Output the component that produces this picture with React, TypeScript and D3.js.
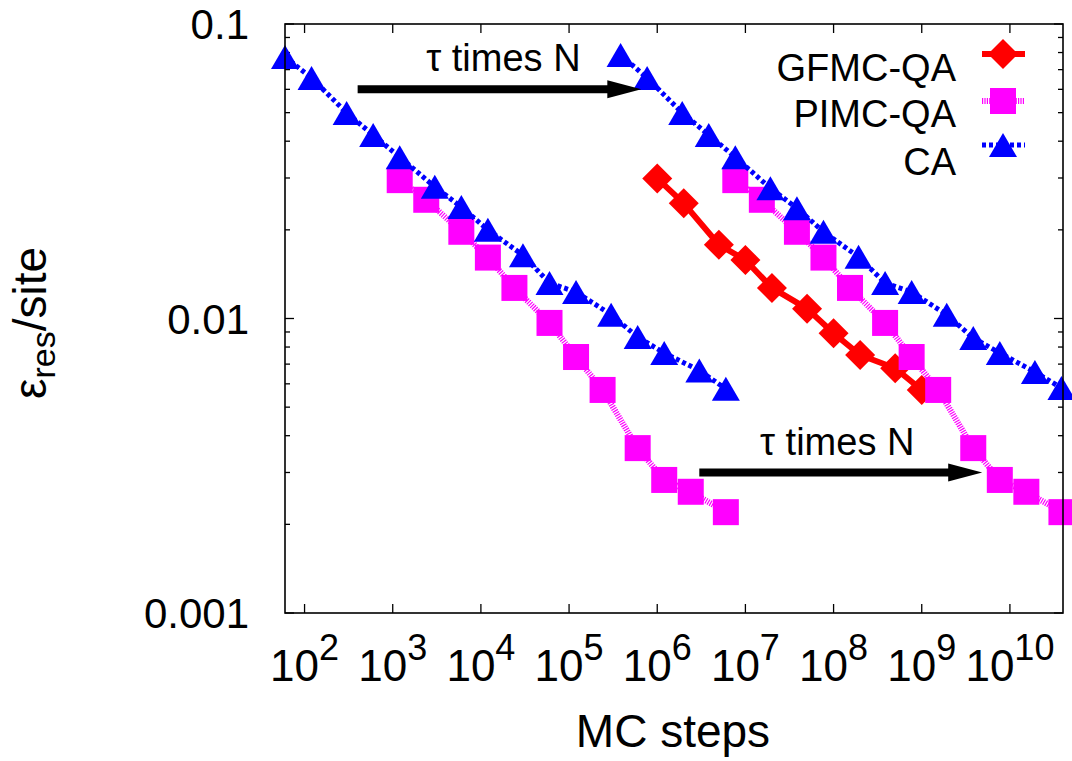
import React from "react";
import * as d3 from "d3";

// ---------- data ----------
const caStepsA = [60, 120, 300, 600, 1200, 3000, 6000, 12000, 30000, 60000, 120000, 300000, 600000, 1.2e6, 3e6, 6e6];
const caErrA = [0.0773, 0.0656, 0.0499, 0.042, 0.0353, 0.028, 0.0239, 0.02, 0.0164, 0.0132, 0.0123, 0.0103, 0.00865, 0.00764, 0.00666, 0.00577];

const caStepsB = [3.84e5, 7.68e5, 1.92e6, 3.84e6, 7.68e6, 1.92e7, 3.84e7, 7.68e7, 1.92e8, 3.84e8, 7.68e8, 1.92e9, 3.84e9, 7.68e9, 1.92e10, 3.84e10];
const caErrB = [0.0785, 0.0656, 0.0499, 0.042, 0.0353, 0.0277, 0.0237, 0.0197, 0.0162, 0.0132, 0.0123, 0.0103, 0.00858, 0.00764, 0.00658, 0.00581];

const pimcStepsA = [1200, 2400, 6000, 12000, 24000, 60000, 120000, 240000, 600000, 1.2e6, 2.4e6, 6e6];
const pimcErrA = [0.0295, 0.0253, 0.0197, 0.0161, 0.0127, 0.00966, 0.0074, 0.00572, 0.00363, 0.00283, 0.00258, 0.0022];

const pimcStepsB = [7.68e6, 1.536e7, 3.84e7, 7.68e7, 1.536e8, 3.84e8, 7.68e8, 1.536e9, 3.84e9, 7.68e9, 1.536e10, 3.84e10];
const pimcErrB = [0.0295, 0.0253, 0.0197, 0.0161, 0.0127, 0.00966, 0.0074, 0.00572, 0.00363, 0.00283, 0.00258, 0.0022];

const gfmcSteps = [1e6, 2e6, 5e6, 1e7, 2e7, 5e7, 1e8, 2e8, 5e8, 1e9];
const gfmcErr = [0.0299, 0.0246, 0.0178, 0.0158, 0.0127, 0.0108, 0.00891, 0.00752, 0.00678, 0.00572];

const xTickExps = [2, 3, 4, 5, 6, 7, 8, 9, 10];
const yTickValues = [0.001, 0.01, 0.1];
const yTickLabels = ["0.001", "0.01", "0.1"];

const legendLabels = ["GFMC-QA", "PIMC-QA", "CA"];

// annotations (data coordinates)
const arrowFrom = [[400, 0.06], [3e6, 0.003]];
const arrowTo = [[6.6e5, 0.06], [4.85e9, 0.003]];
const annotText = ["τ times N", "τ times N"];
const annotPos = [[1.8e4, 0.0694], [1.1e8, 0.00344]];

// ---------- layout ----------
const W = 1072;
const H = 761;
const L = 285, R = 1063, T = 24, B = 613;
const FONT = "'Liberation Sans', Arial, Helvetica, sans-serif";

const x = d3.scaleLog().domain([60, 4e10]).range([L, R]);
const y = d3.scaleLog().domain([0.001, 0.1]).range([B, T]);

type Style = { color: string; width: number; dash?: string; marker: "diamond" | "square" | "triangle" };
const styles: Record<string, Style> = {
  gfmc: { color: "#ff0000", width: 6, marker: "diamond" },
  pimc: { color: "#ff00ff", width: 6, dash: "1.2,1.2", marker: "square" },
  ca: { color: "#0000ff", width: 5, dash: "4,3", marker: "triangle" },
};

function Marker({ cx, cy, s }: { cx: number; cy: number; s: Style }) {
  if (s.marker === "diamond") {
    const r = 15;
    return <path d={`M${cx},${cy - r}L${cx + r},${cy}L${cx},${cy + r}L${cx - r},${cy}Z`} fill={s.color} />;
  }
  if (s.marker === "square") {
    const h = 13;
    return <rect x={cx - h} y={cy - h} width={2 * h} height={2 * h} fill={s.color} />;
  }
  const hw = 14, hh = 12;
  return <path d={`M${cx},${cy - hh}L${cx + hw},${cy + hh}L${cx - hw},${cy + hh}Z`} fill={s.color} />;
}

function Series({ xs, ys, s }: { xs: number[]; ys: number[]; s: Style }) {
  const pts: [number, number][] = xs.map((v, i) => [x(v), y(ys[i])]);
  const line = d3.line()(pts) || "";
  return (
    <g>
      <path d={line} fill="none" stroke={s.color} strokeWidth={s.width} strokeDasharray={s.dash} strokeLinejoin="round" />
      {pts.map((p, i) => (
        <Marker key={i} cx={p[0]} cy={p[1]} s={s} />
      ))}
    </g>
  );
}

function yMinorTicks(): number[] {
  const out: number[] = [];
  for (const dec of [0.001, 0.01]) {
    for (let k = 2; k <= 9; k++) out.push(dec * k);
  }
  return out;
}

export default function App() {
  const minors = yMinorTicks();
  const legendStyles = [styles.gfmc, styles.pimc, styles.ca];
  const legendMarkerY = [54, 101, 145];
  const legendTextY = [81, 127, 175];
  return (
    <svg
      width={W}
      height={H}
      viewBox={`0 0 ${W} ${H}`}
      style={{ position: "absolute", left: 0, top: 0, background: "#fff" }}
      fontFamily={FONT}
    >
      <rect x={0} y={0} width={W} height={H} fill="#fff" />

      {/* ticks */}
      <g stroke="#000" strokeWidth={1.3}>
        {xTickExps.map((e) => {
          const px = x(Math.pow(10, e));
          return (
            <g key={e}>
              <line x1={px} x2={px} y1={B} y2={B - 9} />
              <line x1={px} x2={px} y1={T} y2={T + 9} />
            </g>
          );
        })}
        {yTickValues.map((v) => (
          <g key={v}>
            <line x1={L} x2={L + 9} y1={y(v)} y2={y(v)} />
            <line x1={R} x2={R - 9} y1={y(v)} y2={y(v)} />
          </g>
        ))}
        {minors.map((v) => (
          <g key={v}>
            <line x1={L} x2={L + 5} y1={y(v)} y2={y(v)} />
            <line x1={R} x2={R - 5} y1={y(v)} y2={y(v)} />
          </g>
        ))}
      </g>

      {/* series */}
      <Series xs={gfmcSteps} ys={gfmcErr} s={styles.gfmc} />
      <Series xs={pimcStepsA} ys={pimcErrA} s={styles.pimc} />
      <Series xs={pimcStepsB} ys={pimcErrB} s={styles.pimc} />
      <Series xs={caStepsA} ys={caErrA} s={styles.ca} />
      <Series xs={caStepsB} ys={caErrB} s={styles.ca} />

      {/* frame */}
      <rect x={L} y={T} width={R - L} height={B - T} fill="none" stroke="#000" strokeWidth={1.6} />

      {/* tick labels */}
      {xTickExps.map((e) => (
        <text key={e} x={x(Math.pow(10, e))} y={681} fontSize={44} textAnchor="middle" fill="#000">
          10
          <tspan dy={-21} fontSize={36}>
            {e}
          </tspan>
        </text>
      ))}
      {yTickValues.map((v, i) => (
        <text key={v} x={249} y={y(v) + 15} fontSize={42} textAnchor="end" fill="#000">
          {yTickLabels[i]}
        </text>
      ))}

      {/* axis titles */}
      <text x={673} y={747} fontSize={46} textAnchor="middle" fill="#000">
        MC steps
      </text>
      <text transform="translate(46,323) rotate(-90)" fontSize={46} textAnchor="middle" fill="#000">
        ε
        <tspan dy={9} fontSize={34}>res</tspan>
        <tspan dy={-9}>/site</tspan>
      </text>

      {/* annotations */}
      {arrowFrom.map((f, i) => {
        const x1 = x(f[0]), y1 = y(f[1]);
        const x2 = x(arrowTo[i][0]), y2 = y(arrowTo[i][1]);
        const hl = 34, hw = 9;
        return (
          <g key={i}>
            <line x1={x1} y1={y1} x2={x2 - hl + 2} y2={y2} stroke="#000" strokeWidth={8} />
            <path d={`M${x2},${y2}L${x2 - hl},${y2 - hw}L${x2 - hl},${y2 + hw}Z`} fill="#000" />
            <text x={x(annotPos[i][0])} y={y(annotPos[i][1])} fontSize={38} textAnchor="middle" fill="#000">
              {annotText[i]}
            </text>
          </g>
        );
      })}

      {/* legend */}
      {legendLabels.map((lab, i) => {
        const s = legendStyles[i];
        const cy = legendMarkerY[i];
        return (
          <g key={lab}>
            <text x={956} y={legendTextY[i]} fontSize={38} textAnchor="end" fill="#000">
              {lab}
            </text>
            <line x1={982} x2={1025} y1={cy} y2={cy} stroke={s.color} strokeWidth={s.width} strokeDasharray={s.dash} />
            <Marker cx={1003} cy={cy} s={s} />
          </g>
        );
      })}
    </svg>
  );
}
